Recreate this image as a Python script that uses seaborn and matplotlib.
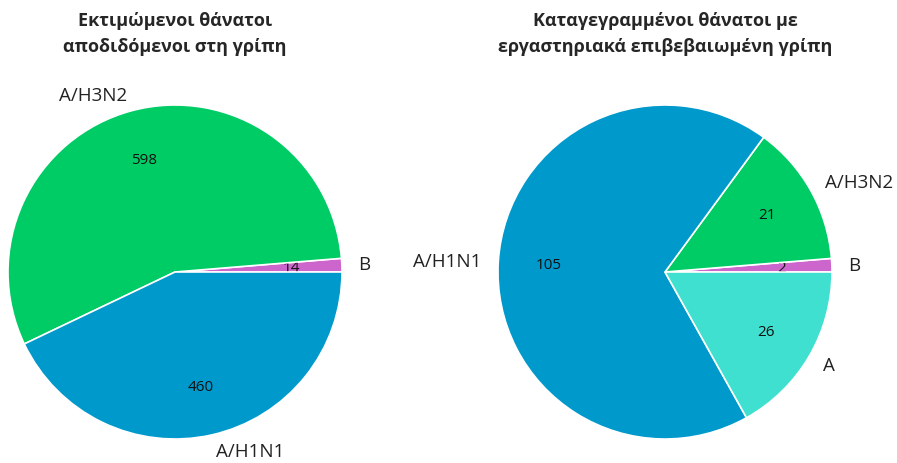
import matplotlib.pyplot as plt
import seaborn as sns

# Left pie: estimated deaths attributed to influenza
left_title = "Εκτιμώμενοι θάνατοι\nαποδιδόμενοι στη γρίπη"
left_labels = ["B", "A/H3N2", "A/H1N1"]
left_values = [14, 598, 460]

# Right pie: recorded deaths with lab-confirmed influenza
right_title = "Καταγεγραμμένοι θάνατοι με\nεργαστηριακά επιβεβαιωμένη γρίπη"
right_labels = ["B", "A/H3N2", "A/H1N1", "A"]
right_values = [2, 21, 105, 26]

colors = {
    "A/H3N2": "#00cc66",
    "A/H1N1": "#0099cc",
    "B": "#cc66cc",
    "A": "#40e0d0",
}

sns.set_style("white")
plt.rcParams["font.family"] = ["Open Sans", "DejaVu Sans"]

fig = plt.figure(figsize=(8.97, 4.64), dpi=100)
r_px = 167
positions = [
    [(175 - r_px) / 897, (191 - r_px) / 464, 2 * r_px / 897, 2 * r_px / 464],
    [(665 - r_px) / 897, (191 - r_px) / 464, 2 * r_px / 897, 2 * r_px / 464],
]


def draw_pie(ax, labels, values, title):
    wedges, texts, autotexts = ax.pie(
        values,
        labels=labels,
        colors=[colors[l] for l in labels],
        startangle=0,
        counterclock=True,
        autopct=lambda p: f"{round(p * sum(values) / 100):d}",
        pctdistance=0.7,
        labeldistance=1.1,
        wedgeprops=dict(edgecolor="white", linewidth=1.2),
    )
    for t in texts:
        t.set_fontsize(13.5)
        t.set_color("#222222")
    # each value sits above its own slice but under the slices drawn after it
    for i, (w, at) in enumerate(zip(wedges, autotexts)):
        w.set_zorder(1 + 2 * i)
        at.set_zorder(2 + 2 * i)
        at.set_fontsize(11)
        at.set_color("#111111")
    ax.set_xlim(-1, 1)
    ax.set_ylim(-1, 1)
    ax.set_aspect("equal")
    ax.axis("off")
    ax.text(0, 1.43, title, ha="center", va="center", fontsize=13,
            fontweight="bold", linespacing=1.55)


ax1 = fig.add_axes(positions[0])
draw_pie(ax1, left_labels, left_values, left_title)
ax2 = fig.add_axes(positions[1])
draw_pie(ax2, right_labels, right_values, right_title)

fig.savefig("out.png", dpi=100)
